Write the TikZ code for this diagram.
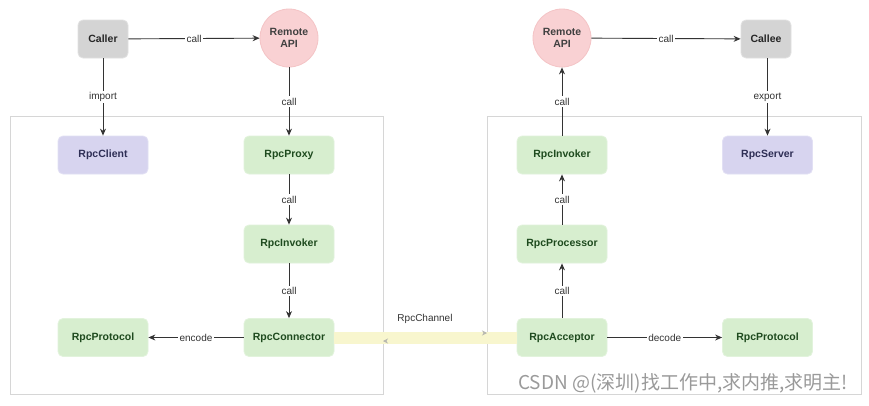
\documentclass[tikz,border=0pt]{standalone}
\usepackage{fontspec}
\setmainfont{Liberation Sans}
\newfontfamily\cjkfont{Noto Sans CJK SC}
\usetikzlibrary{arrows.meta}
\definecolor{greyfill}{HTML}{D4D4D4}
\definecolor{greyline}{HTML}{E2E2E2}
\definecolor{pinkfill}{HTML}{F9D1D3}
\definecolor{pinkline}{HTML}{F4C4C6}
\definecolor{purplefill}{HTML}{D7D4EF}
\definecolor{purpleline}{HTML}{E2E0F4}
\definecolor{purpletext}{HTML}{2E2E55}
\definecolor{greenfill}{HTML}{D7EECF}
\definecolor{greenline}{HTML}{E2F3DC}
\definecolor{greentext}{HTML}{1E4A1E}
\definecolor{arrowcol}{HTML}{333333}
\definecolor{boxborder}{HTML}{D6D6D6}
\definecolor{chanfill}{HTML}{F8F6CE}
\definecolor{chanarrow}{HTML}{B8B8B0}
\definecolor{wmark}{HTML}{9A9A9A}
\tikzset{
  base/.style={font=\fontsize{10.5}{12}\selectfont\bfseries, align=center, line width=0.8pt, rounded corners=5pt},
  greybox/.style={base, fill=greyfill, draw=greyline, minimum width=50pt, minimum height=38pt, text=black!85},
  greenbox/.style={base, fill=greenfill, draw=greenline, minimum width=90pt, minimum height=38pt, text=greentext},
  purplebox/.style={base, fill=purplefill, draw=purpleline, minimum width=90pt, minimum height=38pt, text=purpletext},
  apicircle/.style={base, circle, fill=pinkfill, draw=pinkline, minimum size=58pt, inner sep=0pt, text=black!75},
  container/.style={draw=boxborder, line width=0.8pt, fill=white},
  conn/.style={draw=arrowcol, line width=0.9pt, -{Stealth[length=7pt,width=6pt]}},
  lbl/.style={font=\fontsize{10}{12}\selectfont, fill=white, inner sep=1.5pt, text=black!80},
  chanarr/.style={draw=chanfill, line width=0.6pt, -{Stealth[length=5pt,width=5pt,color=chanarrow]}},
}
\begin{document}
\begin{tikzpicture}[x=1pt,y=-1pt]
\useasboundingbox[fill=white] (0,0) rectangle (869,405);
% containers
\draw[container] (10,116) rectangle (383,394);
\draw[container] (487,116) rectangle (861,394);
% nodes
\node[greybox] (caller) at (103,39) {Caller};
\node[apicircle] (rapiL) at (289,38) {Remote\\API};
\node[apicircle] (rapiR) at (562,38) {Remote\\API};
\node[greybox] (callee) at (766,39) {Callee};
\node[purplebox] (client) at (103,155) {RpcClient};
\node[greenbox] (proxy) at (289,155) {RpcProxy};
\node[greenbox] (invL) at (289,244) {RpcInvoker};
\node[greenbox] (connector) at (289,337.5) {RpcConnector};
\node[greenbox] (protL) at (103,337.5) {RpcProtocol};
\node[greenbox] (invR) at (562,155) {RpcInvoker};
\node[greenbox] (proc) at (562,244) {RpcProcessor};
\node[greenbox] (acc) at (562,337.5) {RpcAcceptor};
\node[purplebox] (server) at (767.5,155) {RpcServer};
\node[greenbox] (protR) at (767.5,337.5) {RpcProtocol};
% channel
\fill[chanfill] ([yshift=6pt]connector.east) rectangle ([yshift=-6pt]acc.west);
\coordinate (lcR) at (383,333);
\coordinate (rcL) at (487,333);
\coordinate (lcR2) at (383,341);
\coordinate (rcL2) at (487,341);
\draw[chanarr] (lcR) -- (rcL);
\draw[chanarr] (rcL2) -- (lcR2);
\node[font=\fontsize{10}{12}\selectfont, text=black!80] (chlabel) at (425,319) {RpcChannel};
% connectors
\draw[conn] (caller) -- node[lbl] {call} (rapiL);
\draw[conn] (caller) -- node[lbl] {import} (client);
\draw[conn] (rapiL) -- node[lbl] {call} (proxy);
\draw[conn] (proxy) -- node[lbl] {call} (invL);
\draw[conn] (invL) -- node[lbl] {call} (connector);
\draw[conn] (connector) -- node[lbl] {encode} (protL);
\draw[conn] (rapiR) -- node[lbl] {call} (callee);
\draw[conn] (callee.south -| server.north) -- node[lbl] {export} (server.north);
\draw[conn] (invR) -- node[lbl] {call} (rapiR);
\draw[conn] (proc) -- node[lbl] {call} (invR);
\draw[conn] (acc) -- node[lbl] {call} (proc);
\draw[conn] (acc) -- node[lbl] {decode} (protR);
% watermark
\node[font=\cjkfont\fontsize{19}{21}\selectfont, text=wmark, inner sep=0pt] (wm) at (683,383) {CSDN @(深圳)找工作中,求内推,求明主!};
\end{tikzpicture}
\end{document}
